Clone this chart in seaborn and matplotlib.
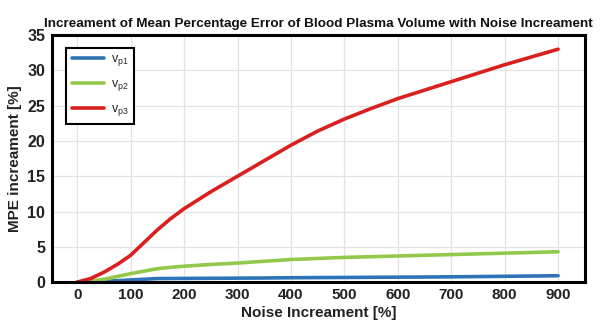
import numpy as np
import pandas as pd
import matplotlib
matplotlib.use("Agg")
import matplotlib.pyplot as plt
import seaborn as sns

noise = [0, 25, 50, 75, 100, 125, 150, 175, 200, 250, 300, 350, 400, 450, 500, 550, 600, 650, 700, 750, 800, 850, 900]
vp1 = [0.0, 0.05, 0.12, 0.2, 0.3, 0.4, 0.5, 0.51, 0.52, 0.54, 0.56, 0.58, 0.62, 0.64, 0.66, 0.68, 0.7, 0.72, 0.75, 0.78, 0.82, 0.86, 0.9]
vp2 = [0.0, 0.15, 0.4, 0.8, 1.2, 1.55, 1.9, 2.1, 2.25, 2.5, 2.7, 2.95, 3.2, 3.35, 3.5, 3.6, 3.7, 3.8, 3.9, 4.0, 4.1, 4.2, 4.3]
vp3 = [0.0, 0.5, 1.4, 2.5, 3.8, 5.6, 7.4, 9.0, 10.4, 12.8, 15.0, 17.2, 19.4, 21.4, 23.1, 24.6, 26.0, 27.2, 28.4, 29.6, 30.8, 31.9, 33.0]
labels = ["v$_{\\mathrm{p1}}$", "v$_{\\mathrm{p2}}$", "v$_{\\mathrm{p3}}$"]
colors = ["#2f74b8", "#93c94a", "#d9201f"]

df = pd.concat([
    pd.DataFrame({"noise": noise, "mpe": v, "series": lab})
    for v, lab in zip([vp1, vp2, vp3], labels)
])

sns.set_theme(style="whitegrid")
plt.rcParams['font.family'] = ['Liberation Sans', 'DejaVu Sans']
plt.rcParams['mathtext.fontset'] = 'custom'
plt.rcParams['mathtext.rm'] = 'Liberation Sans'

fig = plt.figure(figsize=(6.06, 3.25), dpi=100)
ax = fig.add_axes([0.086, 0.132, 0.879, 0.76])
sns.lineplot(data=df, x="noise", y="mpe", hue="series", palette=colors,
             linewidth=2.6, ax=ax, legend=True)

ax.set_xlim(-47, 950)
ax.set_ylim(0, 35)
ax.set_xticks(range(0, 1000, 100))
ax.set_yticks(range(0, 40, 5))
ax.grid(True, color="#e3e3e3", linewidth=0.9)
for s in ax.spines.values():
    s.set_color("black")
    s.set_linewidth(2.2)
ax.tick_params(axis="x", length=0, pad=4, labelsize=11)
ax.tick_params(axis="y", length=0, pad=5, labelsize=11.5)
for t in ax.get_xticklabels() + ax.get_yticklabels():
    t.set_fontweight("bold")
    t.set_color("#222222")

ax.set_xlabel("Noise Increament [%]", fontsize=11, fontweight="bold", color="#222222", labelpad=3)
ax.set_ylabel("MPE increament [%]", fontsize=11, fontweight="bold", color="#222222", labelpad=4)
ax.set_title("Increament of Mean Percentage Error of Blood Plasma Volume with Noise Increament",
             fontsize=9.7, fontweight="bold", color="#111111", pad=6)

leg = ax.legend(loc="upper left", frameon=True, fancybox=False, fontsize=9,
                handlelength=2.6, borderpad=0.45, labelspacing=0.8, handletextpad=0.5,
                bbox_to_anchor=(0.015, 0.975))
leg.get_frame().set_edgecolor("black")
leg.get_frame().set_linewidth(1.5)
leg.get_frame().set_alpha(1)

fig.savefig("out.png", dpi=100)
